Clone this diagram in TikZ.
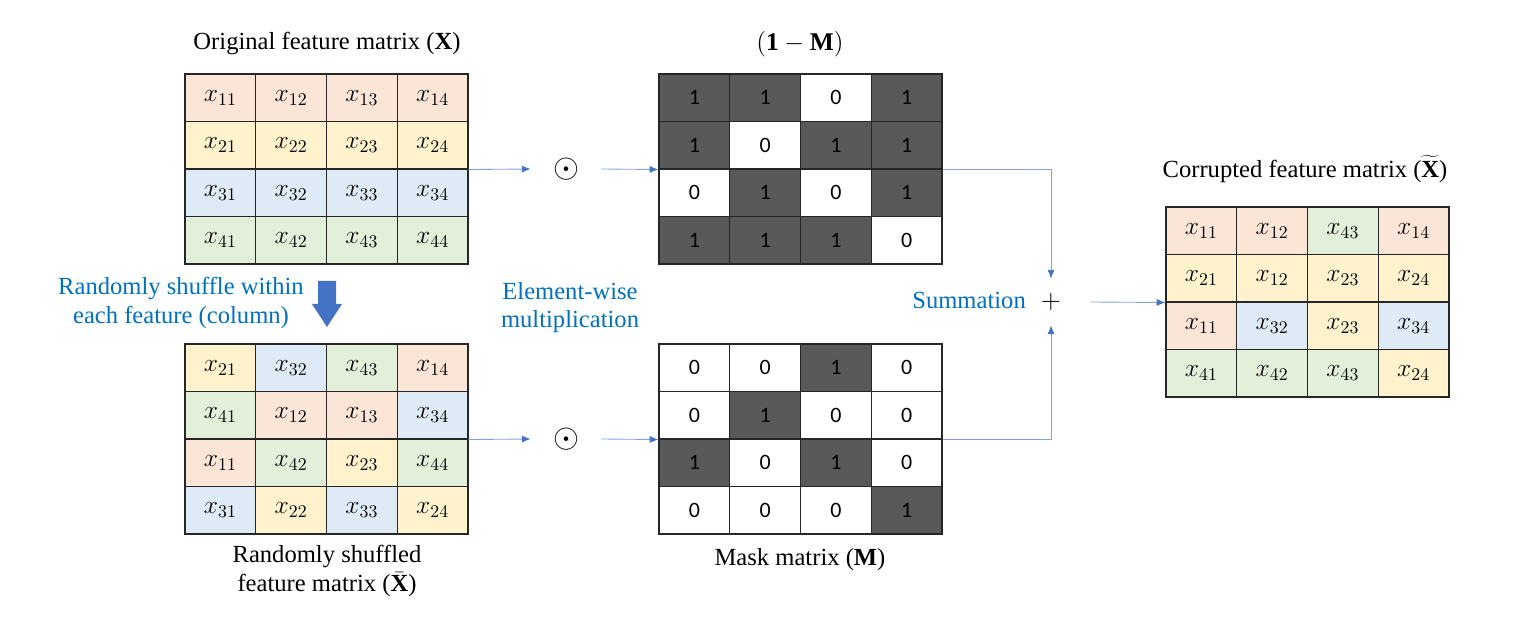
\documentclass[tikz,border=0pt]{standalone}
\usepackage{fix-cm}
\usepackage{fontspec}
\setmainfont{Liberation Serif}
\newfontfamily\bitfont{Carlito}
\usetikzlibrary{arrows.meta}

\definecolor{cpink}{HTML}{FBE5D6}
\definecolor{cyellow}{HTML}{FFF2CC}
\definecolor{cblue}{HTML}{DEEBF7}
\definecolor{cgreen}{HTML}{E2F0D9}
\definecolor{cdark}{HTML}{595959}
\definecolor{linkblue}{HTML}{4472C4}
\definecolor{textblue}{HTML}{0070C0}

\tikzset{
  cell/.style={draw=black!85, line width=0.6pt, minimum width=1.415cm, minimum height=0.95cm, inner sep=0pt, font=\fontsize{14.5}{16}\selectfont},
  bit/.code={\ifnum#1=1 \pgfkeysalso{fill=cdark}\else\pgfkeysalso{fill=white}\fi},
  bitcell/.style={cell, font=\bitfont\fontsize{12.5}{15}\selectfont},
  link/.style={draw=linkblue!65, line width=0.5pt, -{Latex[length=5pt,width=4pt,color=linkblue]}},
  title/.style={font=\fontsize{14}{16}\selectfont, align=center},
  bluetext/.style={title, text=textblue},
  op/.style={inner sep=0pt, minimum width=1.4cm, minimum height=0.92cm, font=\fontsize{19}{20}\selectfont}
}

\newcommand{\featrow}[4]{%
  \foreach \col/\idx [count=\c] in {#4}
    \node[cell, fill=\col] (#1-\c) at ({#2+70.75*(\c-0.5)},#3) {$x_{\idx}$};
}
\newcommand{\bitrow}[4]{%
  \foreach \v [count=\c] in {#4}
    \node[bitcell, bit=\v] (#1-\c) at ({#2+70.75*(\c-0.5)},#3) {\v};
}

\begin{document}
\begin{tikzpicture}[x=0.02cm, y=-0.02cm]
    \useasboundingbox (0,0) rectangle (1520,617);

    \featrow{orig-1}{185}{97.75}{cpink/11,cpink/12,cpink/13,cpink/14}
    \featrow{orig-2}{185}{145.25}{cyellow/21,cyellow/22,cyellow/23,cyellow/24}
    \featrow{orig-3}{185}{192.75}{cblue/31,cblue/32,cblue/33,cblue/34}
    \featrow{orig-4}{185}{240.25}{cgreen/41,cgreen/42,cgreen/43,cgreen/44}

    \featrow{shuf-1}{185}{367.75}{cyellow/21,cblue/32,cgreen/43,cpink/14}
    \featrow{shuf-2}{185}{415.25}{cgreen/41,cpink/12,cpink/13,cblue/34}
    \featrow{shuf-3}{185}{462.75}{cpink/11,cgreen/42,cyellow/23,cgreen/44}
    \featrow{shuf-4}{185}{510.25}{cblue/31,cyellow/22,cblue/33,cyellow/24}

    \bitrow{onem-1}{659}{97.75}{1,1,0,1}
    \bitrow{onem-2}{659}{145.25}{1,0,1,1}
    \bitrow{onem-3}{659}{192.75}{0,1,0,1}
    \bitrow{onem-4}{659}{240.25}{1,1,1,0}

    \bitrow{mask-1}{659}{367.75}{0,0,1,0}
    \bitrow{mask-2}{659}{415.25}{0,1,0,0}
    \bitrow{mask-3}{659}{462.75}{1,0,1,0}
    \bitrow{mask-4}{659}{510.25}{0,0,0,1}

    \featrow{corr-1}{1166}{230.75}{cpink/11,cpink/12,cgreen/43,cpink/14}
    \featrow{corr-2}{1166}{278.25}{cyellow/21,cyellow/12,cyellow/23,cyellow/24}
    \featrow{corr-3}{1166}{325.75}{cpink/11,cblue/32,cyellow/23,cblue/34}
    \featrow{corr-4}{1166}{373.25}{cgreen/41,cgreen/42,cgreen/43,cyellow/24}

    \node[title] (origtitle) at (327,44) {Original feature matrix (\textbf{X})};
    \node[title, font=\fontsize{14.5}{16}\selectfont] (onemtitle) at (800,44) {$(\mathbf{1}-\mathbf{M})$};
    \node[title] (corrtitle) at (1305,169) {Corrupted feature matrix ($\widetilde{\textbf{X}}$)};
    \node[title, font=\fontsize{14}{17}\selectfont] (shuftitle) at (327,571) {Randomly shuffled\\feature matrix ($\bar{\textbf{X}}$)};
    \node[title] (masktitle) at (800,560) {Mask matrix (\textbf{M})};

    \node[bluetext] (shuftext) at (181,303) {Randomly shuffle within\\each feature (column)};
    \node[bluetext] (multext) at (570,308) {Element-wise\\multiplication};
    \node[bluetext, anchor=east] (sumtext) at (1032,300) {Summation};

    \fill[linkblue] (318,281) -- (336,281) -- (336,304) -- (342,304) -- (327,327) -- (312,304) -- (318,304) -- cycle;

    \node[op] (mulA) at (566,169) {$\odot$};
    \node[op] (mulB) at (566,439) {$\odot$};
    \node[op, minimum width=1.56cm, font=\fontsize{15}{16}\selectfont] (sum) at (1051,302) {$+$};

    \draw[link] (orig-2-4.south east) -- (mulA.west);
    \draw[link] (mulA.east) -- (onem-2-1.south west);
    \draw[link] (shuf-2-4.south east) -- (mulB.west);
    \draw[link] (mulB.east) -- (mask-2-1.south west);
    \draw[link] (onem-2-4.south east) -| (sum.north);
    \draw[link] (mask-2-4.south east) -| (sum.south);
    \draw[link] (sum.east) -- (corr-2-1.south west);
\end{tikzpicture}
\end{document}
